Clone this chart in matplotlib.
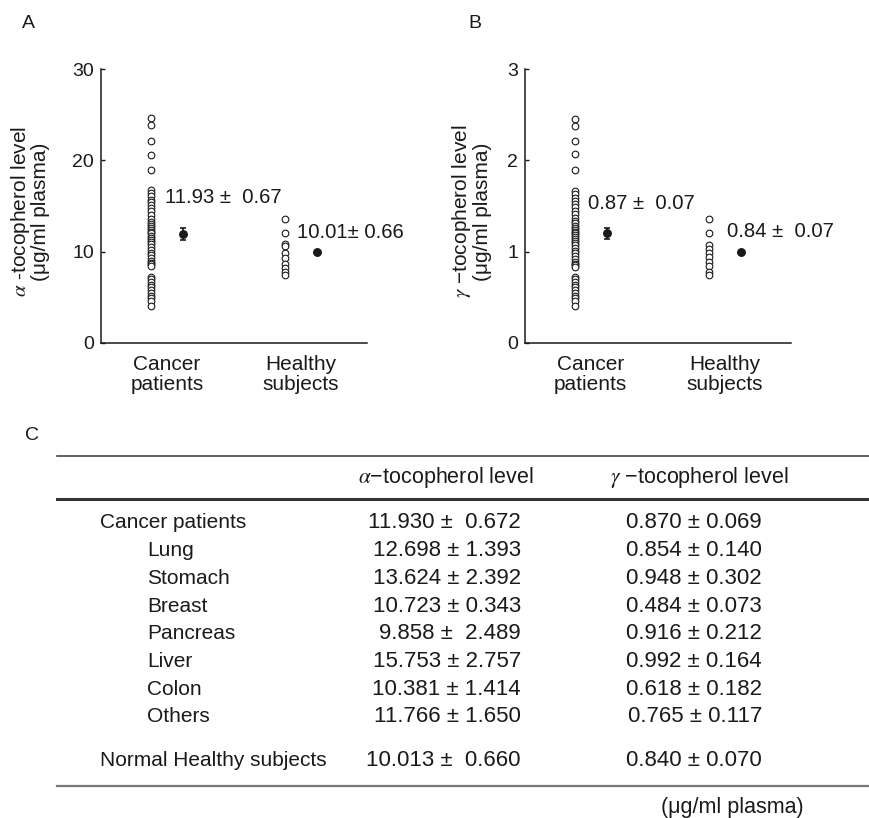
import matplotlib
matplotlib.use('Agg')
import matplotlib.pyplot as plt

plt.rcParams['font.family'] = ['Liberation Sans', 'DejaVu Sans']
plt.rcParams['mathtext.fontset'] = 'stix'

INK = '#1a1a1a'

# individual values
cancer_alpha = [24.6, 23.9, 22.1, 20.6, 18.9, 16.7, 16.4, 16.1, 15.7, 15.4, 15.1, 14.8,
                14.4, 14.0, 13.6, 13.3, 13.0, 12.8, 12.6, 12.4, 12.2, 12.0, 11.7, 11.5,
                11.3, 11.1, 10.8, 10.5, 10.2, 9.9, 9.6, 9.3, 9.0, 8.8, 8.6, 8.4,
                7.2, 7.0, 6.7, 6.4, 6.1, 5.8, 5.5, 5.2, 4.9, 4.6, 4.1]
healthy_alpha = [13.6, 12.0, 10.8, 10.6, 9.8, 9.3, 8.7, 8.2, 7.8, 7.4]
cancer_gamma = [2.45, 2.38, 2.21, 2.07, 1.89, 1.66, 1.63, 1.59, 1.55, 1.52, 1.49, 1.45,
                1.41, 1.37, 1.34, 1.31, 1.28, 1.26, 1.24, 1.22, 1.20, 1.18, 1.16, 1.14,
                1.12, 1.10, 1.07, 1.04, 1.01, 0.98, 0.95, 0.92, 0.89, 0.87, 0.85, 0.83,
                0.72, 0.70, 0.67, 0.64, 0.61, 0.58, 0.55, 0.52, 0.49, 0.46, 0.41]
healthy_gamma = [1.36, 1.20, 1.07, 1.03, 0.99, 0.94, 0.89, 0.84, 0.78, 0.74]

# plotted mean dots (as drawn) and their error bars
dot_alpha = [11.93, 10.01]
dot_alpha_err = [0.62, 0.0]
dot_gamma = [1.20, 1.00]
dot_gamma_err = [0.06, 0.0]

groups = ['Cancer\npatients', 'Healthy\nsubjects']

# table C
rows = ['Cancer patients', 'Lung', 'Stomach', 'Breast', 'Pancreas', 'Liver', 'Colon',
        'Others', 'Normal Healthy subjects']
alpha_mean = [11.930, 12.698, 13.624, 10.723, 9.858, 15.753, 10.381, 11.766, 10.013]
alpha_sem = [0.672, 1.393, 2.392, 0.343, 2.489, 2.757, 1.414, 1.650, 0.660]
gamma_mean = [0.870, 0.854, 0.948, 0.484, 0.916, 0.992, 0.618, 0.765, 0.840]
gamma_sem = [0.069, 0.140, 0.302, 0.073, 0.212, 0.164, 0.182, 0.117, 0.070]
wide_gap = ['Cancer patients', 'Pancreas', 'Normal Healthy subjects']

fig = plt.figure(figsize=(8.7, 8.18), dpi=100)

# overlay in pixel coords for letters and the table
axT = fig.add_axes([0, 0, 1, 1], zorder=-1)
axT.set_xlim(0, 870)
axT.set_ylim(818, 0)
axT.axis('off')


def panel(ax, cancer, healthy, dots, errs, ymax, ylabel, lab_x, txt, txt_xy):
    ax.plot([-0.12] * len(cancer), cancer, 'o', mfc='white', mec=INK, ms=4.8, mew=0.8,
            clip_on=False, zorder=3)
    ax.plot([0.88] * len(healthy), healthy, 'o', mfc='white', mec=INK, ms=4.8, mew=0.8,
            clip_on=False, zorder=3)
    ax.errorbar([0.12, 1.12], dots, yerr=errs, fmt='o', color=INK, ms=5.4,
                capsize=2.5, elinewidth=1.2, capthick=1.2, clip_on=False, zorder=4)
    ax.set_xlim(-0.49, 1.49)
    ax.set_ylim(0, ymax)
    ticks = [0, ymax / 3, 2 * ymax / 3, ymax]
    ax.set_yticks(ticks)
    ax.set_yticklabels([f'{v:g}' for v in ticks])
    ax.set_xticks([0, 1])
    ax.set_xticklabels(groups, fontsize=15, linespacing=1.05, color=INK)
    ax.tick_params(axis='x', length=0, pad=9)
    ax.tick_params(axis='y', direction='in', length=3, width=1, pad=5, labelsize=14,
                   colors=INK)
    for s in ['top', 'right']:
        ax.spines[s].set_visible(False)
    for s in ['left', 'bottom']:
        ax.spines[s].set_linewidth(1.1)
        ax.spines[s].set_color(INK)
    ax.set_ylabel(ylabel, fontsize=15, linespacing=0.95, color=INK)
    ax.yaxis.set_label_coords(lab_x, 0.48)
    for t, (x, y) in zip(txt, txt_xy):
        ax.text(x, y, t, ha='left', va='center', fontsize=14.6, color=INK)


axA = fig.add_axes([0.1161, 0.5807, 0.3057, 0.3349])
panel(axA, cancer_alpha, healthy_alpha, dot_alpha, dot_alpha_err, 30,
      '$\\alpha$ -tocopherol level\n(\u03bcg/ml plasma)', -0.19,
      [f'{alpha_mean[0]:.2f} \u00b1  {alpha_sem[0]:.2f}', f'{alpha_mean[-1]:.2f}\u00b1 {alpha_sem[-1]:.2f}'],
      [(-0.01, 15.9), (0.97, 12.1)])

axB = fig.add_axes([0.6034, 0.5807, 0.3057, 0.3349])
panel(axB, cancer_gamma, healthy_gamma, dot_gamma, dot_gamma_err, 3,
      '$\\gamma$ \u2212tocopherol level\n(\u03bcg/ml plasma)', -0.125,
      [f'{gamma_mean[0]:.2f} \u00b1  {gamma_sem[0]:.2f}', f'{gamma_mean[-1]:.2f} \u00b1  {gamma_sem[-1]:.2f}'],
      [(-0.02, 1.53), (1.015, 1.22)])

axT.text(22, 23, 'A', fontsize=14, ha='left', va='center', color=INK)
axT.text(468, 23, 'B', fontsize=14, ha='left', va='center', color=INK)
axT.text(25, 435, 'C', fontsize=14, ha='left', va='center', color=INK)

# table rules
axT.plot([57, 870], [456, 456], color='#444', lw=1.2)
axT.plot([57, 870], [499, 499], color='#333', lw=2.2)
axT.plot([57, 870], [786, 786], color='#777', lw=1.6)

axT.text(446, 478, '$\\alpha$\u2212tocopherol level', ha='center', va='center',
         fontsize=15.5, color=INK)
axT.text(699, 478, '$\\gamma$ \u2212tocopherol level', ha='center', va='center',
         fontsize=15.5, color=INK)

for i, name in enumerate(rows):
    if i < len(rows) - 1:
        y = 523 + 27.7 * i
    else:
        y = 761
    x = 100 if i == 0 or i == len(rows) - 1 else 147
    gap = '  ' if name in wide_gap else ' '
    axT.text(x, y, name, ha='left', va='center', fontsize=15, color=INK)
    axT.text(521, y, f'{alpha_mean[i]:.3f} \u00b1{gap}{alpha_sem[i]:.3f}', ha='right',
             va='center', fontsize=16, color=INK)
    axT.text(762, y, f'{gamma_mean[i]:.3f} \u00b1 {gamma_sem[i]:.3f}', ha='right',
             va='center', fontsize=16, color=INK)

axT.text(732, 808, '(\u03bcg/ml plasma)', ha='center', va='center', fontsize=15.5, color=INK)

fig.savefig('out.png', dpi=100)
